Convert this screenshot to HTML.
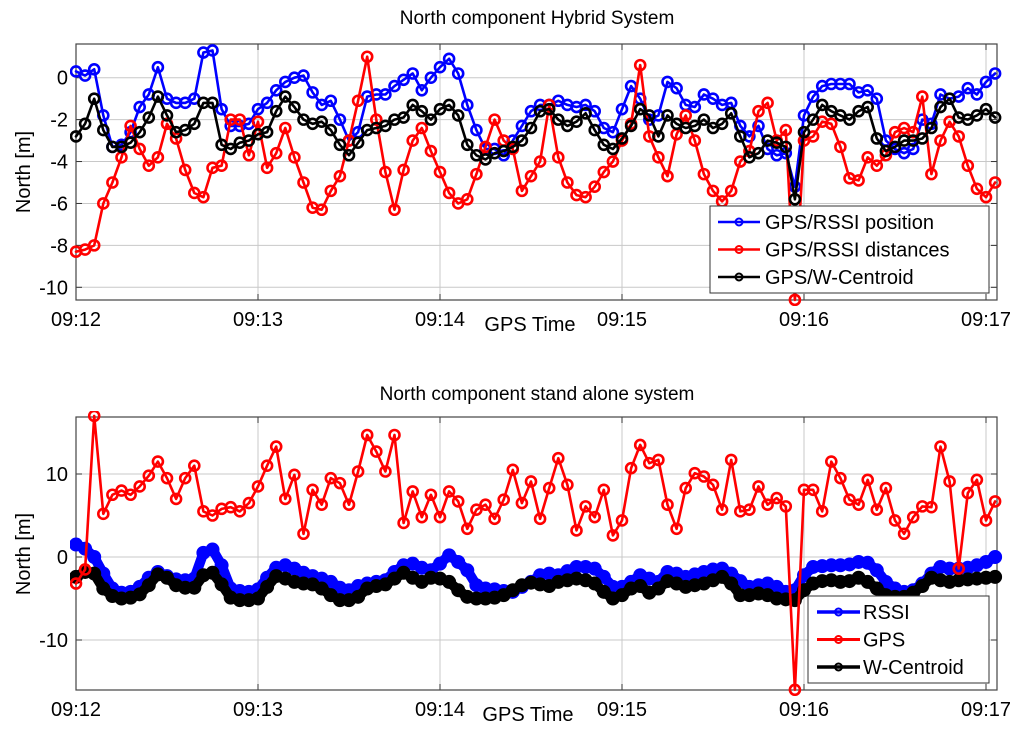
<!DOCTYPE html>
<html><head><meta charset="utf-8">
<style>
html,body{margin:0;padding:0;background:#fff;}
svg{display:block;font-family:"Liberation Sans",Arial,sans-serif;}
</style></head>
<body>
<svg id="chart" width="1024" height="732" viewBox="0 0 1024 732" xmlns="http://www.w3.org/2000/svg"></svg>
<script>
// ---- data (sampled every 3 s starting 09:12:00) ----
const timeStepSec = 3;
const xTickLabels = ["09:12","09:13","09:14","09:15","09:16","09:17"];
const topYTicks = [0,-2,-4,-6,-8,-10];
const botYTicks = [10,0,-10];
const topBlue = [0.3,0.1,0.4,-1.8,-3.3,-3.2,-2.6,-1.4,-0.8,0.5,-1.0,-1.2,-1.2,-1.0,1.2,1.3,-1.5,-2.3,-2.3,-2.2,-1.5,-1.2,-0.6,-0.2,0.0,0.1,-0.7,-1.3,-1.1,-2.0,-3.0,-2.6,-0.9,-0.8,-0.8,-0.4,-0.1,0.2,-0.6,0.0,0.5,0.9,0.2,-1.3,-2.5,-3.4,-3.4,-3.7,-3.0,-2.3,-1.6,-1.3,-1.3,-1.1,-1.3,-1.4,-1.3,-1.6,-2.4,-2.6,-1.5,-0.4,-1.0,-2.0,-1.8,-0.2,-0.5,-1.3,-1.4,-0.8,-1.0,-1.3,-1.2,-2.3,-2.8,-2.3,-3.4,-3.7,-3.6,-5.2,-1.8,-0.9,-0.4,-0.3,-0.3,-0.3,-0.7,-0.6,-1.0,-3.0,-3.4,-3.6,-3.4,-2.0,-2.2,-0.8,-1.0,-0.9,-0.5,-0.8,-0.2,0.2];
const topRed = [-8.3,-8.2,-8.0,-6.0,-5.0,-3.8,-2.3,-3.4,-4.2,-3.8,-2.2,-2.9,-4.4,-5.5,-5.7,-4.3,-4.2,-2.0,-2.0,-3.7,-2.1,-4.3,-3.6,-2.4,-3.8,-5.0,-6.2,-6.3,-5.4,-4.7,-3.0,-1.1,1.0,-2.0,-4.5,-6.3,-4.4,-3.0,-2.4,-3.5,-4.5,-5.5,-6.0,-5.8,-4.6,-3.3,-2.0,-3.0,-3.4,-5.4,-4.7,-4.0,-1.3,-3.8,-5.0,-5.6,-5.7,-5.2,-4.5,-4.0,-3.0,-2.2,0.6,-2.8,-3.8,-4.7,-2.7,-1.8,-3.0,-4.6,-5.4,-5.9,-5.4,-4.0,-3.5,-1.6,-1.2,-3.0,-2.5,-10.6,-3.0,-2.8,-2.1,-2.2,-3.3,-4.8,-4.9,-3.8,-4.2,-3.7,-2.6,-2.4,-2.6,-0.9,-4.6,-3.0,-2.1,-2.8,-4.2,-5.3,-5.7,-5.0];
const topBlack = [-2.8,-2.2,-1.0,-2.5,-3.3,-3.3,-3.1,-2.6,-1.9,-0.9,-1.8,-2.6,-2.5,-2.2,-1.2,-1.2,-3.2,-3.4,-3.1,-3.0,-2.7,-2.6,-1.6,-0.9,-1.4,-2.0,-2.2,-2.1,-2.5,-3.2,-3.7,-3.1,-2.5,-2.4,-2.3,-2.0,-1.9,-1.3,-1.6,-2.0,-1.5,-1.3,-1.8,-3.2,-3.7,-3.9,-3.6,-3.5,-3.3,-3.0,-2.4,-1.6,-1.5,-2.0,-2.3,-2.1,-1.7,-2.5,-3.2,-3.4,-2.9,-2.3,-1.5,-1.8,-2.8,-1.8,-2.2,-2.4,-2.3,-2.0,-2.4,-2.2,-1.7,-2.8,-3.8,-3.6,-3.0,-3.1,-3.3,-5.8,-2.6,-2.0,-1.3,-1.6,-1.8,-2.0,-1.6,-1.4,-2.9,-3.5,-3.3,-3.0,-3.0,-2.9,-2.4,-1.4,-1.0,-1.9,-2.0,-1.8,-1.5,-1.9];
const botRSSI = [1.5,1.0,0.0,-2.0,-3.8,-4.3,-4.2,-3.6,-2.5,-1.8,-2.3,-2.7,-2.8,-2.6,0.5,0.9,-1.0,-3.8,-4.1,-4.2,-3.9,-2.5,-1.3,-1.0,-1.4,-1.9,-2.3,-2.6,-3.0,-3.7,-4.0,-3.5,-3.2,-3.0,-2.8,-1.8,-1.0,-0.8,-1.3,-1.6,-0.8,0.2,-0.6,-1.6,-3.4,-3.8,-3.9,-4.1,-4.2,-3.6,-3.0,-2.2,-2.0,-2.2,-1.7,-1.2,-1.2,-1.4,-2.4,-3.6,-3.6,-3.0,-2.2,-2.6,-3.0,-1.8,-2.0,-2.4,-2.1,-1.8,-1.5,-1.4,-2.0,-2.9,-3.6,-3.4,-3.2,-3.6,-4.2,-4.0,-2.2,-1.2,-1.1,-1.0,-1.0,-0.9,-0.6,-0.7,-1.6,-3.0,-3.8,-4.2,-4.0,-3.2,-2.0,-1.2,-1.4,-1.4,-1.3,-1.0,-0.6,0.0];
const botGPS = [-3.2,-1.5,17.0,5.2,7.5,8.0,7.5,8.5,9.8,11.5,9.5,7.0,9.5,11.0,5.5,5.0,5.8,6.0,5.5,6.5,8.5,11.0,13.3,7.0,9.9,2.8,8.1,6.3,9.5,8.9,6.3,10.3,14.7,12.7,10.3,14.7,4.1,7.9,4.8,7.5,4.8,7.9,6.7,3.4,5.7,6.3,4.6,6.9,10.5,6.5,9.1,4.6,8.3,11.9,8.7,3.2,6.1,4.8,8.1,2.6,4.4,10.7,13.5,11.3,11.7,6.3,3.4,8.3,10.1,9.7,8.7,5.7,11.7,5.5,5.7,8.5,6.3,7.1,6.1,-16.0,8.1,8.1,5.5,11.5,9.5,6.9,6.3,9.3,5.7,8.3,4.4,2.8,4.8,6.1,6.0,13.3,9.1,-1.4,7.7,9.3,4.4,6.7];
const botWC = [-2.4,-1.8,-2.0,-3.8,-4.7,-5.0,-4.9,-4.5,-3.4,-2.1,-2.5,-3.4,-3.7,-3.7,-2.2,-1.9,-3.3,-4.9,-5.2,-5.2,-5.0,-3.6,-2.3,-2.6,-3.0,-3.2,-3.3,-3.8,-4.6,-5.2,-5.2,-4.8,-3.8,-3.5,-3.3,-2.6,-1.9,-2.5,-3.0,-2.5,-2.6,-3.0,-4.0,-4.8,-5.0,-5.0,-4.9,-4.6,-4.0,-3.4,-3.1,-3.3,-3.5,-3.0,-2.8,-2.6,-2.8,-3.2,-4.2,-5.0,-4.6,-3.8,-3.5,-4.3,-3.8,-2.9,-3.2,-3.6,-3.4,-3.2,-2.8,-2.4,-3.2,-4.6,-4.6,-4.4,-4.6,-5.0,-5.1,-5.2,-4.0,-3.2,-2.9,-2.8,-3.0,-2.9,-2.5,-3.0,-3.8,-4.6,-4.8,-4.8,-4.3,-3.5,-2.5,-2.8,-3.0,-2.8,-2.7,-2.6,-2.5,-2.4];

const NS = "http://www.w3.org/2000/svg";
const svg = document.getElementById('chart');
function mk(tag, attrs, parent){ const e=document.createElementNS(NS,tag); for(const k in attrs) e.setAttribute(k,attrs[k]); (parent||svg).appendChild(e); return e; }

const X0 = 76, PX_PER_MIN = 182, XR = 997;
function xScale(sec){ return X0 + sec/60*PX_PER_MIN; }
const topAx = {top:44, bottom:300, y0:77.7, ppu:20.96};
const botAx = {top:417, bottom:690, y0:557, ppu:8.3};
function yScale(ax, v){ return ax.y0 - v*ax.ppu; }

function drawAxes(ax, yTicks, name){
  const g = mk('g',{});
  
  
  xTickLabels.forEach((lab,i)=>{
    const x = X0 + i*PX_PER_MIN;
    mk('line',{x1:x,x2:x,y1:ax.top,y2:ax.bottom,stroke:'#c8c8c8','stroke-width':1},g);
    mk('line',{x1:x,x2:x,y1:ax.bottom,y2:ax.bottom-6,stroke:'#333','stroke-width':1},g);
    mk('line',{x1:x,x2:x,y1:ax.top,y2:ax.top+6,stroke:'#333','stroke-width':1},g);
    const t = mk('text',{x:x,y:ax.bottom+26,'text-anchor':'middle','font-size':20,fill:'#000'},g);
    t.textContent = lab;
    
    
  });
  yTicks.forEach(v=>{
    const y = yScale(ax,v);
    mk('line',{x1:X0,x2:XR,y1:y,y2:y,stroke:'#c8c8c8','stroke-width':1},g);
    mk('line',{x1:X0,x2:X0+6,y1:y,y2:y,stroke:'#333','stroke-width':1},g);
    mk('line',{x1:XR,x2:XR-6,y1:y,y2:y,stroke:'#333','stroke-width':1},g);
    const t = mk('text',{x:X0-8,y:y+7,'text-anchor':'end','font-size':20,fill:'#000'},g);
    t.textContent = String(v);
    
    
  });
  mk('rect',{x:X0,y:ax.top,width:XR-X0,height:ax.bottom-ax.top,fill:'none',stroke:'#444','stroke-width':1.2},g);
}

function drawSeries(ax, vals, color, name, lw, r, sw){
  const g = mk('g',{'clip-path':'url(#clip-'+(ax===topAx?'top':'bot')+')'});
  
  
  const pts = vals.map((v,i)=>xScale(i*timeStepSec).toFixed(1)+','+yScale(ax,v).toFixed(1));
  mk('polyline',{points:pts.join(' '),fill:'none',stroke:color,'stroke-width':lw,'stroke-linejoin':'round','stroke-linecap':'round'},g);
  vals.forEach((v,i)=>{
    const c = mk('circle',{cx:xScale(i*timeStepSec),cy:yScale(ax,v),r:r,fill:'none',stroke:color,'stroke-width':sw},g);
    
    
  });
}

const defs = mk('defs',{});
const cp1 = mk('clipPath',{id:'clip-top'},defs); mk('rect',{x:X0-6,y:topAx.top-6,width:XR-X0+12,height:topAx.bottom-topAx.top+12},cp1);
const cp2 = mk('clipPath',{id:'clip-bot'},defs); mk('rect',{x:X0-6,y:botAx.top-6,width:XR-X0+12,height:botAx.bottom-botAx.top+12},cp2);

function text(x,y,str,size,name,extra){
  const t = mk('text',Object.assign({x:x,y:y,'font-size':size,fill:'#000','text-anchor':'middle'},extra||{}));
  t.textContent = str;
  
  
  return t;
}

drawAxes(topAx, topYTicks, 'top');
drawSeries(topAx, topBlue, '#0000ff', 'series-gps-rssi-position', 2.6, 5, 2.6);
drawSeries(topAx, topRed, '#ff0000', 'series-gps-rssi-distances', 2.6, 5, 2.6);
drawSeries(topAx, topBlack, '#000000', 'series-gps-w-centroid', 2.6, 5, 2.6);
text(537,24,'North component Hybrid System',19,'top-chart-title');
text(530,331,'GPS Time',20,'top-x-axis-title');
text(30,172,'North [m]',20,'top-y-axis-title',{transform:'rotate(-90 30 172)'});

drawAxes(botAx, botYTicks, 'bottom');
drawSeries(botAx, botRSSI, '#0000ff', 'series-rssi', 10, 5, 4);
drawSeries(botAx, botWC, '#000000', 'series-w-centroid', 10, 5, 4);
drawSeries(botAx, botGPS, '#ff0000', 'series-gps', 2.6, 5, 2.6);
text(537,400,'North component stand alone system',19,'bottom-chart-title');
text(528,721,'GPS Time',20,'bottom-x-axis-title');
text(30,554,'North [m]',20,'bottom-y-axis-title',{transform:'rotate(-90 30 554)'});

function legend(x,y,w,h,entries,lineX1,lineX2,textX,name){
  const g = mk('g',{});
  
  
  mk('rect',{x:x,y:y,width:w,height:h,fill:'#fff',stroke:'#333','stroke-width':1},g);
  entries.forEach((e,i)=>{
    const cy = y+16+i*27.5;
    const eg = mk('g',{},g);
    
    
    mk('line',{x1:lineX1,x2:lineX2,y1:cy,y2:cy,stroke:e[1],'stroke-width':e[2]||2.5},eg);
    mk('circle',{cx:(lineX1+lineX2)/2,cy:cy,r:3.5,fill:'none',stroke:e[1],'stroke-width':2},eg);
    const t = mk('text',{x:textX,y:cy+7,'font-size':20,fill:'#000'},eg);
    t.textContent = e[0];
  });
}
legend(710,206,279,87,[['GPS/RSSI position','#0000ff'],['GPS/RSSI distances','#ff0000'],['GPS/W-Centroid','#000000']],718,760,765,'top-legend');
legend(808,596,181,87,[['RSSI','#0000ff',3.5],['GPS','#ff0000',3],['W-Centroid','#000000',3.5]],817,860,863,'bottom-legend');
</script>
</body></html>
